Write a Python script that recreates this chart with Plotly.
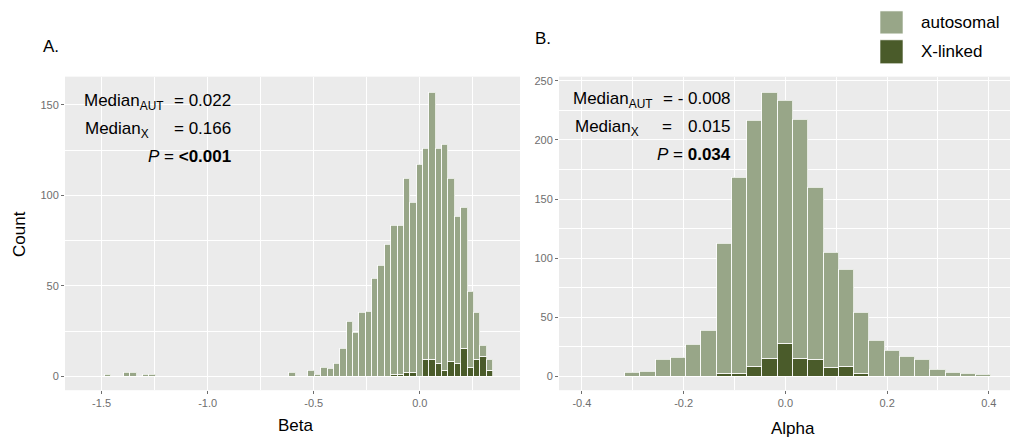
import plotly.graph_objects as go

# ---------------- data ----------------
# Panel A (Beta) – bin centres, totals and X-linked counts
beta_bins = [-1.47, -1.38, -1.35, -1.29, -1.26, -0.60, -0.51, -0.48, -0.45, -0.42,
             -0.39, -0.36, -0.33, -0.30, -0.27, -0.24, -0.21, -0.18, -0.15, -0.12,
             -0.09, -0.06, -0.03, 0.00, 0.03, 0.06, 0.09, 0.12, 0.15, 0.18,
             0.21, 0.24, 0.27, 0.30, 0.33]
beta_total = [1, 2, 2, 1, 1, 2, 3, 1, 5, 4,
              7, 15, 30, 24, 35, 36, 54, 61, 73, 83,
              83, 109, 96, 117, 126, 157, 126, 128, 109, 88,
              93, 47, 35, 17, 9]
beta_x = [0, 0, 0, 0, 0, 0, 0, 0, 0, 0,
          0, 0, 0, 0, 0, 0, 0, 0, 0, 1,
          1, 2, 2, 0, 9, 9, 7, 3, 8, 7,
          15, 5, 9, 11, 3]
beta_aut = [t - x for t, x in zip(beta_total, beta_x)]

# Panel B (Alpha)
alpha_bins = [-0.30, -0.27, -0.24, -0.21, -0.18, -0.15, -0.12, -0.09, -0.06, -0.03,
              0.00, 0.03, 0.06, 0.09, 0.12, 0.15, 0.18, 0.21, 0.24, 0.27,
              0.30, 0.33, 0.36, 0.39]
alpha_total = [3, 4, 14, 16, 27, 39, 112, 168, 216, 240,
               233, 217, 160, 105, 90, 54, 30, 22, 17, 14,
               6, 3, 2, 1]
alpha_x = [0, 0, 0, 0, 0, 0, 2, 2, 8, 15,
           28, 15, 14, 7, 8, 2, 0, 0, 0, 0,
           0, 0, 0, 0]
alpha_aut = [t - x for t, x in zip(alpha_total, alpha_x)]

BINW = 0.03
beta_ticks = [-1.5, -1.0, -0.5, 0.0]
beta_ticklabels = ["-1.5", "-1.0", "-0.5", "0.0"]
alpha_ticks = [-0.4, -0.2, 0.0, 0.2, 0.4]
alpha_ticklabels = ["-0.4", "-0.2", "0.0", "0.2", "0.4"]
beta_yticks = [0, 50, 100, 150]
alpha_yticks = [0, 50, 100, 150, 200, 250]
groups = ["autosomal", "X-linked"]

# ---------------- style ----------------
W, H = 1010, 440
AUT_COL = "#98A688"
X_COL = "#4A5B2A"
OUTLINE = "rgba(255,255,255,0.75)"
BG = "#EBEBEB"
TICK_COL = "#6e6e6e"
FONT = "Liberation Sans, Arial, sans-serif"


def px(x):
    return x / W


def py(y):
    return 1 - y / H


fig = go.Figure()

for bins, xs, auts, xa, ya in [(beta_bins, beta_x, beta_aut, "x", "y"),
                               (alpha_bins, alpha_x, alpha_aut, "x2", "y2")]:
    fig.add_trace(go.Bar(x=bins, y=xs, width=BINW, name=groups[1],
                         marker=dict(color=X_COL, line=dict(color=OUTLINE, width=1)),
                         xaxis=xa, yaxis=ya, showlegend=False))
    fig.add_trace(go.Bar(x=bins, y=auts, width=BINW, name=groups[0],
                         marker=dict(color=AUT_COL, line=dict(color=OUTLINE, width=1)),
                         xaxis=xa, yaxis=ya, showlegend=False))

axis_common = dict(showgrid=True, gridcolor="white", gridwidth=1.3,
                   zeroline=False, showline=False, ticks="outside", ticklen=3,
                   tickwidth=1, tickcolor=TICK_COL,
                   tickfont=dict(family=FONT, size=11, color=TICK_COL))

fig.update_layout(
    width=W, height=H,
    margin=dict(l=0, r=0, t=0, b=0),
    paper_bgcolor="white", plot_bgcolor=BG,
    barmode="stack", bargap=0,
    font=dict(family=FONT, color="black"),
    xaxis=dict(domain=[px(65), px(520)], range=[-1.6725, 0.4725],
               tickmode="array", tickvals=beta_ticks, ticktext=beta_ticklabels,
               minor=dict(tickvals=[-1.25, -0.75, -0.25, 0.25], showgrid=True,
                          gridcolor="white", gridwidth=0.6),
               anchor="y", **axis_common),
    yaxis=dict(domain=[py(390), py(75)], range=[-7.7, 165.6],
               tickmode="array", tickvals=beta_yticks,
               ticktext=[str(v) for v in beta_yticks],
               minor=dict(tickvals=[25, 75, 125], showgrid=True,
                          gridcolor="white", gridwidth=0.6),
               anchor="x", **axis_common),
    xaxis2=dict(domain=[px(559), 1.0], range=[-0.445, 0.4416],
                tickmode="array", tickvals=alpha_ticks, ticktext=alpha_ticklabels,
                minor=dict(tickvals=[-0.3, -0.1, 0.1, 0.3], showgrid=True,
                           gridcolor="white", gridwidth=0.6),
                anchor="y2", **axis_common),
    yaxis2=dict(domain=[py(390), py(75)], range=[-11.8, 253.6],
                tickmode="array", tickvals=alpha_yticks,
                ticktext=[str(v) for v in alpha_yticks],
                minor=dict(tickvals=[25, 75, 125, 175, 225], showgrid=True,
                           gridcolor="white", gridwidth=0.6),
                anchor="x2", **axis_common),
)

ann = []


def add(text, x, y, xanchor="left", yanchor="middle", size=17, angle=0):
    ann.append(dict(text=text, x=px(x), y=py(y), xref="paper", yref="paper",
                    xanchor=xanchor, yanchor=yanchor, showarrow=False,
                    textangle=angle, font=dict(family=FONT, size=size, color="black")))


# panel letters
add("A.", 41, 45, size=17)
add("B.", 533, 37, size=17)
# axis titles
add("Count", 20, 233, xanchor="center", size=17, angle=-90)
add("Beta", 296, 425, xanchor="center", size=17)
add("Alpha", 793, 428, xanchor="center", size=17)

# stats text panel A (yanchor top -> baseline ~ top + 16)
add("Median<sub>AUT</sub>", 82, 103 - 16, yanchor="top")
add("= 0.022", 233, 103 - 16, xanchor="right", yanchor="top")
add("Median<sub>X</sub>", 83, 131.5 - 16, yanchor="top")
add("= 0.166", 233, 131.5 - 16, xanchor="right", yanchor="top")
add("<i>P</i> = <b>&lt;0.001</b>", 233, 160 - 16, xanchor="right", yanchor="top")

# stats text panel B
add("Median<sub>AUT</sub>", 571, 101.5 - 16, yanchor="top")
add("= - 0.008", 733, 101.5 - 16, xanchor="right", yanchor="top")
add("Median<sub>X</sub>", 573, 129.5 - 16, yanchor="top")
add("=", 667, 129.5 - 16, xanchor="center", yanchor="top")
add("0.015", 733, 129.5 - 16, xanchor="right", yanchor="top")
add("<i>P</i> = <b>0.034</b>", 733, 157.5 - 16, xanchor="right", yanchor="top")

# legend labels
add(groups[0], 919, 21, size=17)
add(groups[1], 919, 50, size=17)

fig.update_layout(annotations=ann)

# legend keys
shapes = []
for (y0, y1, col) in [(9, 32, AUT_COL), (38, 62, X_COL)]:
    shapes.append(dict(type="rect", xref="paper", yref="paper",
                       x0=px(880), x1=px(903), y0=py(y1), y1=py(y0),
                       fillcolor=col, line=dict(color="rgba(255,255,255,0.6)", width=1)))
fig.update_layout(shapes=shapes)

fig.write_html("out.html")
